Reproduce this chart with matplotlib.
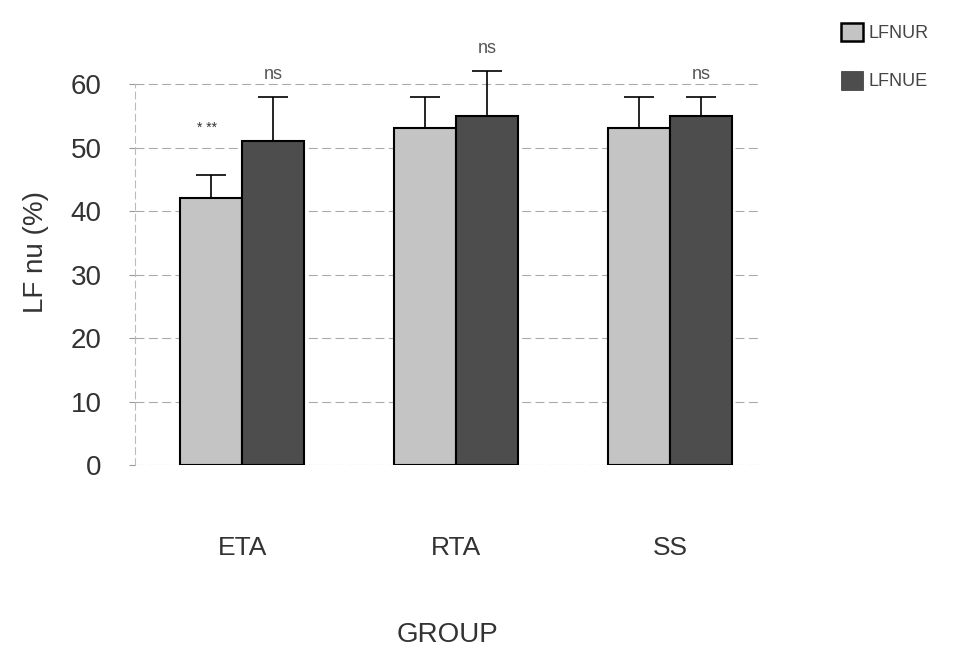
import matplotlib
matplotlib.use("Agg")
import matplotlib.pyplot as plt
import numpy as np
from matplotlib.patches import Patch

plt.rcParams['font.family'] = ['Liberation Sans', 'DejaVu Sans']

# данные
groups = ["ETA", "RTA", "SS"]
series_names = ["LFNUR", "LFNUE"]
lfnur = [42, 53, 53]
lfnue = [51, 55, 55]
lfnur_err = [3.6, 5, 5]
lfnue_err = [7, 7, 3]
lfnur_marks = ["* **", "", ""]
lfnue_marks = ["ns", "ns", "ns"]
yticks = [0, 10, 20, 30, 40, 50, 60]

light = "#c4c4c4"
dark = "#4d4d4d"
txt = "#333333"

fig = plt.figure(figsize=(9.54, 6.52), dpi=100)
ax = fig.add_axes([0.1415, 0.2868, 0.6555, 68 * 6.35 / 652])

x = np.arange(len(groups))
w = 0.29

ax.bar(x - w / 2, lfnur, w, color=light, edgecolor="black", linewidth=1.5, zorder=3)
ax.bar(x + w / 2, lfnue, w, color=dark, edgecolor="black", linewidth=1.5, zorder=3)

ax.errorbar(x - w / 2, lfnur, yerr=[np.zeros(3), lfnur_err], fmt="none",
            ecolor="black", elinewidth=1.2, capsize=11, capthick=1.2, zorder=2)
ax.errorbar(x + w / 2, lfnue, yerr=[np.zeros(3), lfnue_err], fmt="none",
            ecolor="black", elinewidth=1.2, capsize=11, capthick=1.2, zorder=2)

# пометки значимости
for i in range(len(groups)):
    if lfnur_marks[i]:
        ax.annotate(lfnur_marks[i], (x[i] - w / 2, lfnur[i] + lfnur_err[i]),
                    xytext=(-3, 29), textcoords="offset points",
                    ha="center", va="bottom", fontsize=10, color=txt)
    if lfnue_marks[i]:
        ax.annotate(lfnue_marks[i], (x[i] + w / 2, lfnue[i] + lfnue_err[i]),
                    xytext=(0, 10), textcoords="offset points",
                    ha="center", va="bottom", fontsize=13, color="#555555")

ax.set_xlim(-0.5, 2.42)
ax.set_ylim(0, 68)
ax.set_yticks(yticks)
ax.set_yticklabels([str(t) for t in yticks], fontsize=20, color=txt)
ax.set_xticks(x)
ax.set_xticklabels(groups, fontsize=19, color=txt)
ax.tick_params(axis="x", length=0, pad=51)
ax.tick_params(axis="y", length=4, color="#999999", pad=20)

ax.yaxis.grid(True, linestyle=(0, (8, 4)), color="#aaaaaa", linewidth=0.8, zorder=0)
for s in ["top", "right", "bottom"]:
    ax.spines[s].set_visible(False)
ax.spines["left"].set_color("#bbbbbb")
ax.spines["left"].set_linestyle((0, (6, 4)))
ax.spines["left"].set_linewidth(0.8)
ax.spines["left"].set_bounds(0, 60)

fig.text(36 / 954, 1 - 252 / 652, "LF nu (%)", rotation=90, ha="center", va="center",
         fontsize=20, color=txt)
fig.text(448 / 954, 1 - 635 / 652, "GROUP", ha="center", va="center", fontsize=20, color=txt)

handles = [Patch(facecolor=light, edgecolor="black", linewidth=1.8),
           Patch(facecolor=dark, edgecolor="#333333", linewidth=0.5)]
leg = fig.legend(handles, series_names, loc="upper right", bbox_to_anchor=(0.99, 0.99),
                 frameon=False, fontsize=13, handlelength=1.2, handleheight=1.2,
                 labelspacing=1.6, handletextpad=0.3)
for t in leg.get_texts():
    t.set_color("#444444")

fig.savefig("out.png", dpi=100)
